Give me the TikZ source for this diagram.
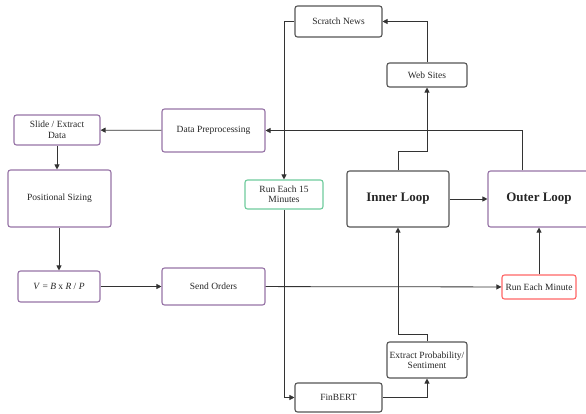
\documentclass[tikz,border=0pt]{standalone}
\usepackage{fontspec}
\setmainfont{Liberation Serif}
\usetikzlibrary{arrows.meta}
\definecolor{viola}{HTML}{9673A6}
\definecolor{verde}{HTML}{6FCB9C}
\definecolor{rosso}{HTML}{FF6666}
\definecolor{grigio}{HTML}{555555}
\begin{document}
\begin{tikzpicture}[x=1pt, y=-1pt, >={Triangle[length=5pt,width=5pt]},
    box/.style={draw=grigio, line width=1.1pt, rounded corners=2.5pt, align=center,
        inner sep=1pt, text=black!85, font=\fontsize{9.5}{10.5}\selectfont},
    viobox/.style={box, draw=viola},
    loopbox/.style={box, font=\fontsize{13}{15}\selectfont\bfseries},
    freccia/.style={->, line width=0.8pt, black!80}]

    \useasboundingbox (0,0) rectangle (586,414);

    % Nodi
    \node[box, minimum width=87pt, minimum height=31pt] (news) at (338.5,21.5) {Scratch News};
    \node[box, minimum width=80pt, minimum height=24pt] (web) at (427,75) {Web Sites};
    \node[viobox, minimum width=86pt, minimum height=30pt] (slide) at (57,130) {Slide / Extract\\Data};
    \node[viobox, minimum width=103pt, minimum height=43pt] (prep) at (213.5,130.5) {Data Preprocessing};
    \node[viobox, minimum width=103pt, minimum height=57pt] (sizing) at (59.5,198.5) {Positional Sizing};
    \node[box, draw=verde, minimum width=78pt, minimum height=29pt] (run15) at (284,194.5) {Run Each 15\\Minutes};
    \node[loopbox, minimum width=102pt, minimum height=56pt] (inner) at (398,199) {Inner Loop};
    \node[loopbox, draw=viola, minimum width=102pt, minimum height=56pt] (outer) at (539,199) {Outer Loop};
    \node[viobox, minimum width=82pt, minimum height=31pt] (formula) at (59,286.5) {\textit{V} = \textit{B} x \textit{R} / \textit{P}};
    \node[viobox, minimum width=103pt, minimum height=37pt] (send) at (213.5,286.5) {Send Orders};
    \node[box, draw=rosso, minimum width=74pt, minimum height=24pt] (runmin) at (539,287) {Run Each Minute};
    \node[box, minimum width=80pt, minimum height=36pt] (extract) at (427,360) {Extract Probability/\\Sentiment};
    \node[box, minimum width=87pt, minimum height=29pt] (finbert) at (338.5,397.5) {FinBERT};

    % Ciclo interno
    \draw[freccia] (news.west) -| (run15.north);
    \draw[freccia] (run15.south) |- (finbert.west);
    \draw[freccia] (finbert.east) -| (extract.south);
    \draw[freccia] (extract.north) -- ++(0,-7) -| (inner.south);
    \draw[freccia] (inner.north) -- ++(0,-19) -| (web.south);
    \draw[freccia] (web.north) |- (news.east);

    % Ciclo esterno
    \draw[freccia] (inner) -- (outer);
    \draw[freccia] ([xshift=-17pt]outer.north) |- (prep.east);
    \draw[freccia] (prep) -- (slide);
    \draw[freccia] (slide.south) -- (slide.south |- sizing.north);
    \draw[freccia] (sizing.south -| formula.north) -- (formula.north);
    \draw[freccia] (formula) -- (send);
    \draw[freccia] (send) -- (runmin);
    \draw[freccia] (runmin) -- (outer);
\end{tikzpicture}
\end{document}
